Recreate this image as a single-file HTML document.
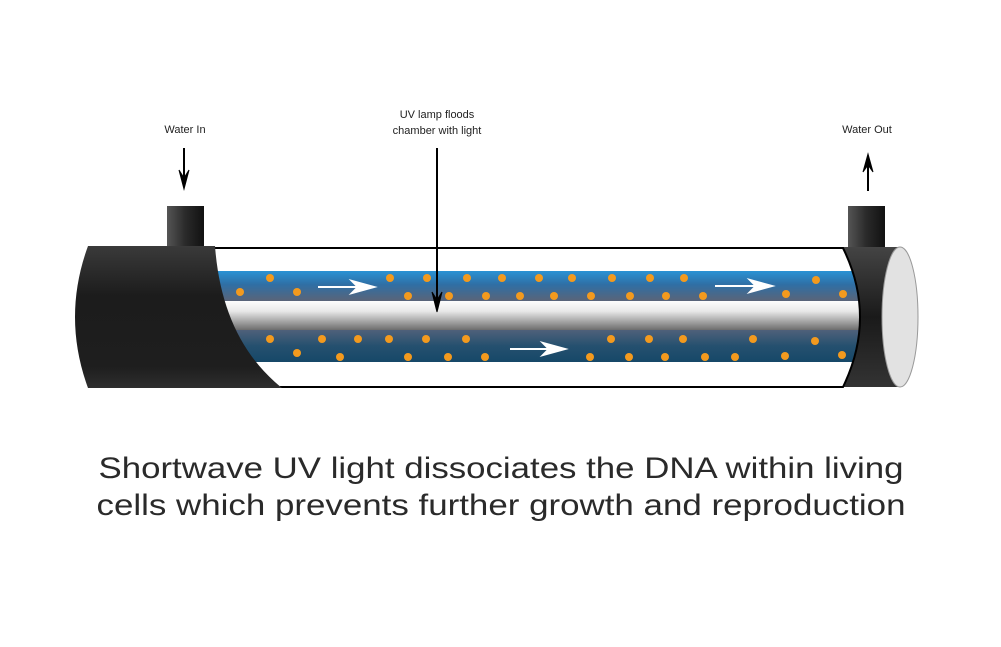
<!DOCTYPE html>
<html><head><meta charset="utf-8"><style>
html,body{margin:0;padding:0;background:#fff;}
svg{display:block;}
</style></head><body>
<svg width="1001" height="647" viewBox="0 0 1001 647" xmlns="http://www.w3.org/2000/svg">
<defs>
<linearGradient id="cap" x1="0" y1="0" x2="0" y2="1">
<stop offset="0" stop-color="#3a3a3a"/><stop offset="0.35" stop-color="#1c1c1c"/><stop offset="0.85" stop-color="#1e1e1e"/><stop offset="1" stop-color="#2e2e2e"/>
</linearGradient>
<linearGradient id="pipe" x1="0" y1="0" x2="1" y2="0">
<stop offset="0" stop-color="#555"/><stop offset="0.5" stop-color="#2a2a2a"/><stop offset="1" stop-color="#111"/>
</linearGradient>
<linearGradient id="collar" x1="0" y1="0" x2="0" y2="1">
<stop offset="0" stop-color="#444"/><stop offset="0.5" stop-color="#1a1a1a"/><stop offset="1" stop-color="#333"/>
</linearGradient>
<linearGradient id="b1" x1="0" y1="0" x2="0" y2="1">
<stop offset="0" stop-color="#2a92d4"/><stop offset="0.45" stop-color="#2f6fa5"/><stop offset="1" stop-color="#5a6478"/>
</linearGradient>
<linearGradient id="lamp" x1="0" y1="0" x2="0" y2="1">
<stop offset="0" stop-color="#fdfdfd"/><stop offset="0.35" stop-color="#e8e8e8"/><stop offset="1" stop-color="#6d6d6d"/>
</linearGradient>
<linearGradient id="b2" x1="0" y1="0" x2="0" y2="1">
<stop offset="0" stop-color="#4f617a"/><stop offset="0.5" stop-color="#25506f"/><stop offset="1" stop-color="#164868"/>
</linearGradient>
<clipPath id="tube"><path d="M215,248 L843,248 Q877,317 843,387 L280,387 Q222,340 215,248 Z"/></clipPath>
</defs>

<rect x="167" y="206" width="37" height="42" fill="url(#pipe)"/>
<rect x="848" y="206" width="37" height="42" fill="url(#pipe)"/>

<path d="M840,247 L902,247 L902,387 L840,387 Z" fill="url(#collar)"/>
<ellipse cx="900" cy="317" rx="18" ry="70" fill="#e2e2e2" stroke="#999" stroke-width="1"/>

<g clip-path="url(#tube)">
<rect x="200" y="246" width="690" height="145" fill="#fff"/>
<rect x="200" y="271" width="690" height="30" fill="url(#b1)"/>
<rect x="200" y="301" width="690" height="29" fill="url(#lamp)"/>
<rect x="200" y="330" width="690" height="32" fill="url(#b2)"/>
<g fill="#f39a1e">
<circle cx="270" cy="278" r="4"/><circle cx="390" cy="278" r="4"/><circle cx="427" cy="278" r="4"/><circle cx="467" cy="278" r="4"/><circle cx="502" cy="278" r="4"/><circle cx="539" cy="278" r="4"/><circle cx="572" cy="278" r="4"/><circle cx="612" cy="278" r="4"/><circle cx="650" cy="278" r="4"/><circle cx="684" cy="278" r="4"/><circle cx="816" cy="280" r="4"/>
<circle cx="240" cy="292" r="4"/><circle cx="297" cy="292" r="4"/><circle cx="408" cy="296" r="4"/><circle cx="449" cy="296" r="4"/><circle cx="486" cy="296" r="4"/><circle cx="520" cy="296" r="4"/><circle cx="554" cy="296" r="4"/><circle cx="591" cy="296" r="4"/><circle cx="630" cy="296" r="4"/><circle cx="666" cy="296" r="4"/><circle cx="703" cy="296" r="4"/><circle cx="786" cy="294" r="4"/><circle cx="843" cy="294" r="4"/>
<circle cx="270" cy="339" r="4"/><circle cx="322" cy="339" r="4"/><circle cx="358" cy="339" r="4"/><circle cx="389" cy="339" r="4"/><circle cx="426" cy="339" r="4"/><circle cx="466" cy="339" r="4"/><circle cx="611" cy="339" r="4"/><circle cx="649" cy="339" r="4"/><circle cx="683" cy="339" r="4"/><circle cx="753" cy="339" r="4"/><circle cx="815" cy="341" r="4"/>
<circle cx="297" cy="353" r="4"/><circle cx="340" cy="357" r="4"/><circle cx="408" cy="357" r="4"/><circle cx="448" cy="357" r="4"/><circle cx="485" cy="357" r="4"/><circle cx="590" cy="357" r="4"/><circle cx="629" cy="357" r="4"/><circle cx="665" cy="357" r="4"/><circle cx="705" cy="357" r="4"/><circle cx="735" cy="357" r="4"/><circle cx="785" cy="356" r="4"/><circle cx="842" cy="355" r="4"/>
</g>
<g stroke="#fff" stroke-width="2" fill="#fff">
<line x1="318" y1="287" x2="362" y2="287"/><path d="M352,281 L374,287 L352,293 L358,287 Z"/>
<line x1="510" y1="349" x2="553" y2="349"/><path d="M543,343 L565,349 L543,355 L549,349 Z"/>
<line x1="715" y1="286" x2="760" y2="286"/><path d="M750,280 L772,286 L750,292 L756,286 Z"/>
</g>
</g>
<path d="M215,248 L843,248 Q877,317 843,387 L280,387" fill="none" stroke="#000" stroke-width="2"/>

<path d="M88,246 L215,246 Q222,340 282,388 L88,388 Q62,317 88,246 Z" fill="url(#cap)"/>

<g font-family="'Liberation Sans', sans-serif" font-size="11" fill="#222" text-anchor="middle">
<text x="185" y="133">Water In</text>
<text x="867" y="133">Water Out</text>
<text x="437" y="118">UV lamp floods</text>
<text x="437" y="134">chamber with light</text>
</g>
<g stroke="#000" stroke-width="2" fill="#000">
<line x1="184" y1="148" x2="184" y2="180"/>
<path d="M179,170 L184,189 L189,170 L184,178 Z" stroke-width="1"/>
<line x1="868" y1="163" x2="868" y2="191"/>
<path d="M863,172 L868,154 L873,172 L868,165 Z" stroke-width="1"/>
<line x1="437" y1="148" x2="437" y2="300"/>
<path d="M432,292 L437,312 L442,292 L437,300 Z" stroke-width="1"/>
</g>

<g font-family="'Liberation Sans', sans-serif" font-size="30" fill="#2a2a2a" text-anchor="middle">
<text x="501" y="478" textLength="805" lengthAdjust="spacingAndGlyphs">Shortwave UV light dissociates the DNA within living</text>
<text x="501" y="515" textLength="809" lengthAdjust="spacingAndGlyphs">cells which prevents further growth and reproduction</text>
</g>
</svg>
</body></html>
